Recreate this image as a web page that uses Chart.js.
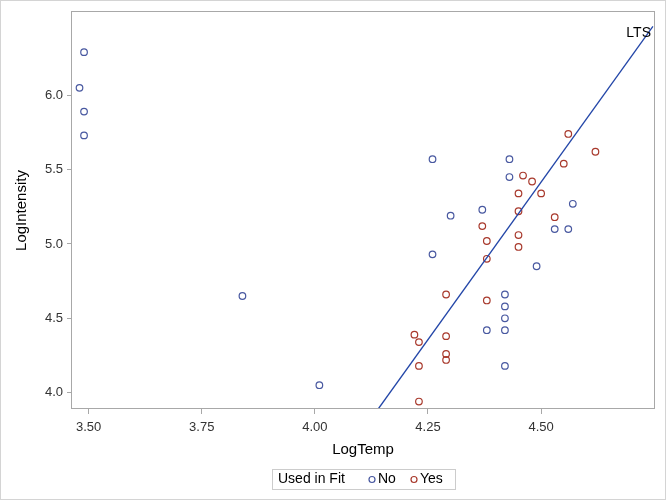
<!DOCTYPE html>
<html>
<head>
<meta charset="utf-8">
<script src="https://cdn.jsdelivr.net/npm/chart.js@4.4.0/dist/chart.umd.min.js"></script>
<style>
  html, body { margin: 0; padding: 0; background: #fff; }
  #wrap { width: 666px; height: 500px; }
</style>
</head>
<body>
<div id="wrap"><canvas id="mycanvas" width="666" height="500"></canvas></div>
<script>
// star cluster data
var tempNo = [3.49, 3.48, 3.49, 3.49, 3.84, 4.01, 4.26, 4.26, 4.30, 4.37, 4.43, 4.43, 4.38, 4.42, 4.42, 4.42, 4.42, 4.42, 4.49, 4.53, 4.56, 4.57];
var intensNo = [6.29, 6.05, 5.89, 5.73, 4.65, 4.05, 5.57, 4.93, 5.19, 5.23, 5.57, 5.45, 4.42, 4.66, 4.58, 4.50, 4.42, 4.18, 4.85, 5.10, 5.10, 5.27];
var tempYes = [4.37, 4.38, 4.38, 4.38, 4.29, 4.29, 4.29, 4.29, 4.22, 4.23, 4.23, 4.23, 4.45, 4.45, 4.45, 4.45, 4.46, 4.48, 4.50, 4.53, 4.55, 4.56, 4.62];
var intensYes = [5.12, 5.02, 4.90, 4.62, 4.66, 4.38, 4.26, 4.22, 4.39, 4.34, 4.18, 3.94, 5.34, 5.22, 5.06, 4.98, 5.46, 5.42, 5.34, 5.18, 5.54, 5.74, 5.62];
// LTS fit line ends
var ltsX = [4.140, 4.747];
var ltsY = [3.890, 6.464];
var xTicks = [3.50, 3.75, 4.00, 4.25, 4.50];
var yTicks = [4.0, 4.5, 5.0, 5.5, 6.0];

var blue = '#4858a0';
var red = '#a8392c';
var lineCol = '#2346a8';
var txt = '#333333';
var fam = '"Liberation Sans", Arial, sans-serif';

function pts(xs, ys){
    var out = [];
    for(var i in xs){ out.push({x: xs[i], y: ys[i]}); }
    return out;
}

var framePlugin = {
    id: 'frame',
    beforeDraw: function(chart){
        var c = chart.ctx;
        c.save();
        c.fillStyle = '#fff';
        c.fillRect(0, 0, chart.width, chart.height);
        c.restore();
    },
    afterDraw: function(chart){
        var c = chart.ctx, a = chart.chartArea;
        c.save();
        // outer border
        c.strokeStyle = '#d4d4d4';
        c.lineWidth = 1;
        c.strokeRect(0.5, 0.5, chart.width - 1, chart.height - 1);
        // plot frame
        c.strokeStyle = '#a8a8a8';
        c.strokeRect(Math.round(a.left) - 0.5, Math.round(a.top) - 0.5, Math.round(a.right - a.left) + 1, Math.round(a.bottom - a.top));
        // LTS label
        c.font = '14px ' + fam;
        c.fillStyle = '#000';
        c.textAlign = 'right';
        c.textBaseline = 'middle';
        c.fillText('LTS', a.right - 3, a.top + 21);
        // legend
        var lx = 272, ly = 469, lw = 183, lh = 20;
        c.strokeStyle = '#cccccc';
        c.strokeRect(lx + 0.5, ly + 0.5, lw, lh);
        c.font = '14px ' + fam;
        c.textAlign = 'left';
        c.fillStyle = '#000';
        var cy = ly + lh / 2 + 0.5;
        c.fillText('Used in Fit', lx + 6, cy);
        var items = [{t: 'No', col: blue, x: lx + 100}, {t: 'Yes', col: red, x: lx + 142}];
        for(var i in items){
            c.beginPath();
            c.strokeStyle = items[i].col;
            c.lineWidth = 1.2;
            c.arc(items[i].x, cy, 3, 0, Math.PI * 2);
            c.stroke();
            c.fillStyle = '#000';
            c.fillText(items[i].t, items[i].x + 6, cy);
        }
        c.restore();
    }
};

var ctx = document.getElementById('mycanvas');
var scatter = new Chart(ctx, {
    type: 'scatter',
    data: {
        datasets: [
            {
                label: 'LTS',
                type: 'line',
                data: pts(ltsX, ltsY),
                borderColor: lineCol,
                borderWidth: 1.3,
                pointRadius: 0,
                fill: false
            },
            {
                label: 'No',
                data: pts(tempNo, intensNo),
                borderColor: blue,
                backgroundColor: 'rgba(0,0,0,0)',
                borderWidth: 1.2,
                pointRadius: 3.3,
                pointHoverRadius: 3.3
            },
            {
                label: 'Yes',
                data: pts(tempYes, intensYes),
                borderColor: red,
                backgroundColor: 'rgba(0,0,0,0)',
                borderWidth: 1.2,
                pointRadius: 3.3,
                pointHoverRadius: 3.3
            }
        ]
    },
    options: {
        responsive: false,
        animation: false,
        layout: { padding: { left: 0, right: 12, top: 12, bottom: 41 } },
        plugins: { legend: { display: false }, tooltip: { enabled: false } },
        scales: {
            x: {
                type: 'linear',
                min: 3.4634,
                max: 4.7494,
                afterBuildTicks: function(scale){ scale.ticks = xTicks.map(function(v){ return {value: v}; }); },
                afterFit: function(scale){ scale.height = 50; },
                grid: { drawOnChartArea: false, color: '#a8a8a8', tickLength: 5 },
                border: { display: false },
                ticks: {
                    color: txt,
                    padding: 6,
                    font: { family: fam, size: 13 },
                    callback: function(v){ return v.toFixed(2); }
                },
                title: {
                    display: true,
                    text: 'LogTemp',
                    color: '#000',
                    font: { family: fam, size: 15 },
                    padding: { top: 4, bottom: 0 }
                }
            },
            y: {
                type: 'linear',
                min: 3.890,
                max: 6.560,
                afterBuildTicks: function(scale){ scale.ticks = yTicks.map(function(v){ return {value: v}; }); },
                afterFit: function(scale){ scale.width = 72; },
                grid: { drawOnChartArea: false, color: '#a8a8a8', tickLength: 5 },
                border: { display: false },
                ticks: {
                    color: txt,
                    padding: 4,
                    font: { family: fam, size: 13 },
                    callback: function(v){ return v.toFixed(1); }
                },
                title: {
                    display: true,
                    text: 'LogIntensity',
                    color: '#000',
                    font: { family: fam, size: 15 },
                    padding: { top: 13, bottom: 0 }
                }
            }
        }
    },
    plugins: [framePlugin]
});
</script>
</body>
</html>
